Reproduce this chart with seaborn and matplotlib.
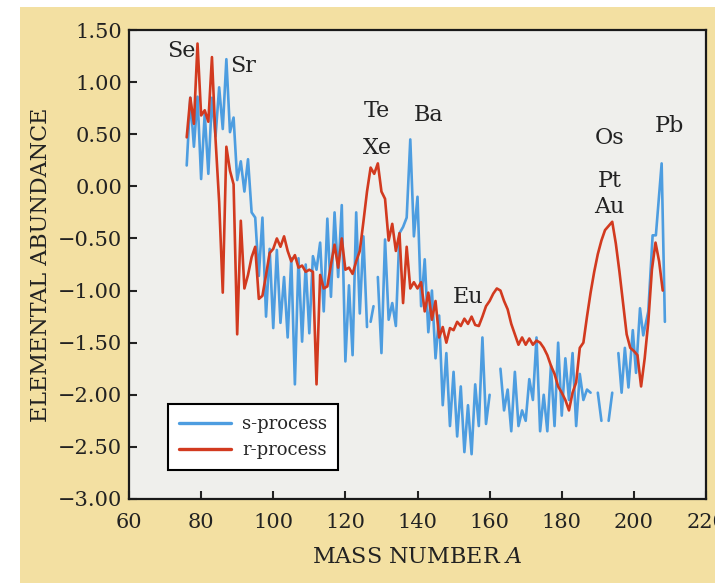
import matplotlib

matplotlib.use("Agg")
import matplotlib.pyplot as plt
import numpy as np
import pandas as pd
import seaborn as sns
from matplotlib.lines import Line2D

nan = np.nan

# s-process abundance vs mass number (NaN = gap in the curve)
s_mass = list(range(76, 127)) + [126.5, 127.0, 127.8, 128.5] + list(range(129, 161)) + [161.5] \
    + list(range(163, 189)) + [189, 190, 191, 192, 193, 194, 195] \
    + [195.7, 196.6, 197.5, 198.5, 199.7, 200.6, 201.7, 202.6, 204.0, 205.2, 206.1, 207.7, 208.6]
s_abund = [
    0.20, 0.85, 0.38, 0.86, 0.07, 0.70, 0.12, 0.85, 0.48, 0.95,   # 76-85
    0.55, 1.22, 0.52, 0.66, 0.06, 0.24, -0.05, 0.26, -0.25, -0.30,  # 86-95
    -0.86, -0.30, -1.25, -0.60, -1.36, -0.61, -1.31, -0.87, -1.45, -0.69,  # 96-105
    -1.90, -0.69, -1.49, -0.75, -1.41, -0.67, -0.80, -0.54, -1.20, -0.31,  # 106-115
    -1.06, -0.25, -0.87, -0.18, -1.68, -0.95, -1.62, -0.25, -1.22, -0.48,  # 116-125
    -1.35,
    nan, -1.30, -1.15, nan,
    -0.87, -1.60, -0.51, -1.28, -1.12, -1.34, -0.45, -0.39, -0.30, 0.45,  # 129-138
    -0.48, -0.10, -1.15, -0.70, -1.40, -1.00, -1.65, -1.24, -2.10, -1.60,  # 139-148
    -2.30, -1.78, -2.40, -1.92, -2.55, -2.10, -2.57, -1.90, -2.30, -1.45,  # 149-158
    -2.28, -2.00,
    nan,
    -1.75, -2.15, -1.95, -2.35, -1.78, -2.30, -2.15, -2.25, -1.85, -2.05,  # 163-172
    -1.45, -2.35, -2.00, -2.35, -1.72, -2.30, -1.50, -2.20, -1.65, -2.05,  # 173-182
    -1.60, -2.30, -1.80, -2.05, -1.95, -1.98,                             # 183-188
    nan, -1.98, -2.25, nan, -2.25, -1.98, nan,
    -1.60, -1.98, -1.55, -1.93, -1.38, -1.79, -1.17, -1.43, -1.20, -0.47,
    -0.47, 0.22, -1.30,
]

# r-process abundance vs mass number
r_mass = list(range(76, 209))
r_abund = [
    0.47, 0.85, 0.60, 1.37, 0.68, 0.73, 0.62, 1.24, 0.45, -0.15,   # 76-85
    -1.02, 0.38, 0.15, 0.02, -1.42, -0.33, -0.98, -0.85, -0.68, -0.58,  # 86-95
    -1.08, -1.05, -0.85, -0.64, -0.60, -0.50, -0.58, -0.48, -0.62, -0.72,  # 96-105
    -0.66, -0.78, -0.76, -0.82, -0.80, -0.82, -1.90, -0.85, -0.98, -0.96,  # 106-115
    -0.75, -0.56, -0.78, -0.50, -0.80, -0.78, -0.84, -0.72, -0.62, -0.34,  # 116-125
    -0.05, 0.18, 0.12, 0.22, -0.05, -0.12, -0.52, -0.36, -0.62, -0.45,  # 126-135
    -1.12, -0.58, -0.98, -0.92, -0.98, -0.92, -1.20, -1.02, -1.28, -1.10,  # 136-145
    -1.45, -1.35, -1.50, -1.36, -1.38, -1.30, -1.34, -1.27, -1.32, -1.25,  # 146-155
    -1.33, -1.34, -1.25, -1.15, -1.10, -1.03, -0.98, -1.00, -1.10, -1.18,  # 156-165
    -1.32, -1.42, -1.52, -1.45, -1.52, -1.46, -1.52, -1.48, -1.50, -1.55,  # 166-175
    -1.62, -1.72, -1.80, -1.92, -1.98, -2.05, -2.15, -1.98, -1.88, -1.55,  # 176-185
    -1.50, -1.25, -1.02, -0.82, -0.65, -0.52, -0.42, -0.38, -0.34, -0.55,  # 186-195
    -0.82, -1.12, -1.42, -1.55, -1.58, -1.62, -1.92, -1.65, -1.30, -0.80,  # 196-205
    -0.54, -0.72, -1.00,                                                # 206-208
]

# element labels: (text, mass number, abundance)
labels = [
    ("Se", 74.6, 1.30), ("Sr", 91.5, 1.15), ("Te", 128.8, 0.72), ("Xe", 128.8, 0.37),
    ("Ba", 143.0, 0.68), ("Eu", 154.0, -1.06), ("Os", 193.2, 0.46), ("Pt", 193.2, 0.05),
    ("Au", 193.2, -0.20), ("Pb", 209.8, 0.58),
]

x_ticks = [60, 80, 100, 120, 140, 160, 180, 200, 220]
y_ticks = [1.5, 1.0, 0.5, 0.0, -0.5, -1.0, -1.5, -2.0, -2.5, -3.0]

S_COLOR = "#4d9de0"
R_COLOR = "#d23a1f"
YELLOW = "#f3e0a2"
INK = "#222222"

sns.set_theme(style="ticks")
plt.rcParams["font.family"] = ["DejaVu Serif"]
plt.rcParams["mathtext.fontset"] = "dejavuserif"


def segments(mass, vals):
    df = pd.DataFrame({"mass": mass, "abund": vals})
    df["seg"] = df["abund"].isna().cumsum()
    return df.dropna()


fig = plt.figure(figsize=(7.15, 5.83), dpi=100, facecolor="white")
fig.patches.append(plt.Rectangle((20 / 715, 0), 1, 1 - 7 / 583, transform=fig.transFigure,
                                 facecolor=YELLOW, edgecolor="none", zorder=-10))
ax = fig.add_axes([129 / 715, 84 / 583, 577 / 715, 469 / 583])
ax.set_facecolor("#efefec")

s_df = segments(s_mass, s_abund)
for _, seg in s_df.groupby("seg"):
    sns.lineplot(data=seg, x="mass", y="abund", color=S_COLOR, linewidth=1.9, ax=ax,
                 estimator=None, sort=False)
r_df = segments(r_mass, r_abund)
sns.lineplot(data=r_df, x="mass", y="abund", color=R_COLOR, linewidth=1.9, ax=ax,
             estimator=None, sort=False)

for text, m, v in labels:
    ax.text(m, v, text, fontsize=16, ha="center", va="center", color=INK)

ax.set_xlim(60, 220)
ax.set_ylim(-3.0, 1.5)
ax.set_xticks(x_ticks)
ax.set_yticks(y_ticks)
ax.set_yticklabels([f"{t:.2f}".replace("-", "\u2212") for t in y_ticks])
ax.tick_params(direction="in", length=6, width=1.5, labelsize=15, colors=INK)
ax.tick_params(axis="x", pad=10)
ax.tick_params(axis="y", pad=5)
for sp in ax.spines.values():
    sp.set_visible(True)
    sp.set_linewidth(1.6)
    sp.set_color("#1a1a1a")

ax.set_xlabel("MASS NUMBER $\\mathit{A}$", fontsize=16, labelpad=10, color=INK)
ax.set_ylabel("ELEMENTAL ABUNDANCE", fontsize=16, labelpad=4, color=INK)

handles = [Line2D([], [], color=S_COLOR, linewidth=2.4), Line2D([], [], color=R_COLOR, linewidth=2.4)]
leg = ax.legend(handles, ["s-process", "r-process"], loc="lower left",
                bbox_to_anchor=(0.052, 0.042), fontsize=13, frameon=True, fancybox=False,
                edgecolor="black", facecolor="white", framealpha=1, handlelength=2.9,
                borderpad=0.6, labelspacing=0.45, handletextpad=0.6)
leg.get_frame().set_linewidth(1.5)

fig.savefig("out.png", dpi=100, facecolor=fig.get_facecolor())
